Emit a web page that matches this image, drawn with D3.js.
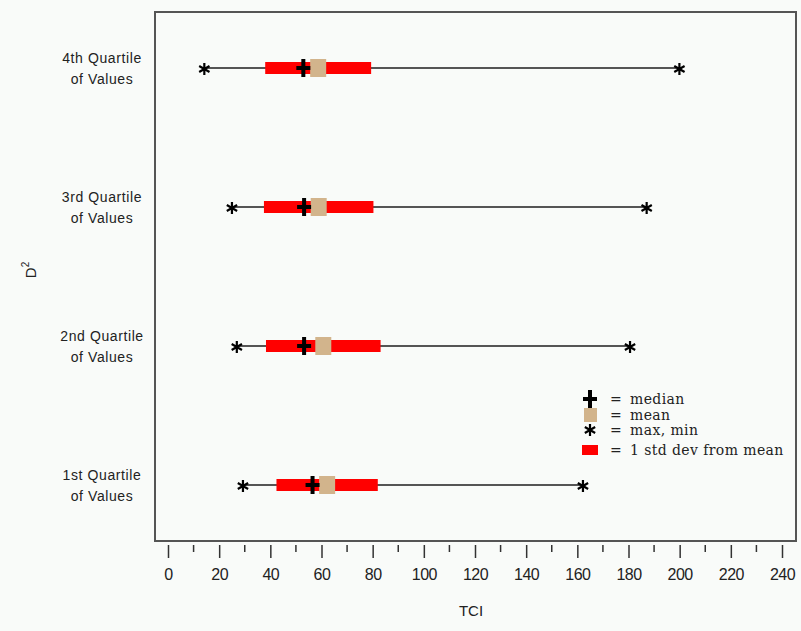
<!DOCTYPE html>
<html>
<head>
<meta charset="utf-8">
<script src="https://cdn.jsdelivr.net/npm/d3@7"></script>
<style>
  body { margin: 0; background: #f9fbf9; }
  svg { display: block; }
</style>
</head>
<body>
<svg id="chart"></svg>
<script>
// quartile groups, bottom to top
const groups = ["1st", "2nd", "3rd", "4th"];
const minVals = [29.3, 26.9, 25.0, 14.2];
const maxVals = [162.2, 180.6, 187.1, 199.9];
const medians = [56.5, 53.2, 53.2, 52.9];
const means = [62.2, 60.7, 58.9, 58.7];
const stdDevs = [19.8, 22.4, 21.4, 20.7];
const xTicks = d3.range(0, 241, 20);
const legendItems = ["median", "mean", "max, min", "1 std dev from mean"];

const width = 801, height = 631;
const svg = d3.select("#chart").attr("width", width).attr("height", height);

const x = d3.scaleLinear().domain([0, 240]).range([168, 782]);
const y = d3.scalePoint().domain(groups).range([485, 68]);

const rows = groups.map((g, i) => ({
  g: g, min: minVals[i], max: maxVals[i], med: medians[i], mean: means[i], sd: stdDevs[i]
}));

// frame
svg.append("rect")
  .attr("x", 155).attr("y", 12)
  .attr("width", 641).attr("height", 529)
  .attr("fill", "none").attr("stroke", "#555").attr("stroke-width", 2);

// x axis below the frame
const xAxis = d3.axisBottom(x).tickValues(xTicks).tickSize(13).tickFormat(d3.format("d"));
const gx = svg.append("g").attr("transform", "translate(0,545)").call(xAxis);
gx.select(".domain").remove();
gx.selectAll(".tick line").attr("stroke", "#333").attr("stroke-width", 1.5);
gx.selectAll(".tick text")
  .attr("y", 24)
  .attr("fill", "#222")
  .style("font-family", "'Liberation Sans', Arial, sans-serif")
  .style("font-size", "16px")
  .style("letter-spacing", "-0.5px");
svg.append("g").selectAll("line")
  .data(d3.range(10, 240, 20))
  .join("line")
  .attr("x1", d => x(d)).attr("x2", d => x(d))
  .attr("y1", 545).attr("y2", 552)
  .attr("stroke", "#333").attr("stroke-width", 1.5);

svg.append("text")
  .attr("x", 471).attr("y", 616)
  .attr("text-anchor", "middle")
  .attr("fill", "#222")
  .style("font-family", "'Liberation Sans', Arial, sans-serif")
  .style("font-size", "15px")
  .text("TCI");

// y title
const yt = svg.append("text")
  .attr("transform", "translate(36,270) rotate(-90)")
  .attr("text-anchor", "middle")
  .attr("fill", "#222")
  .style("font-family", "'Liberation Sans', Arial, sans-serif")
  .style("font-size", "15px");
yt.append("tspan").text("D");
yt.append("tspan").attr("dy", -7).style("font-size", "10px").text("2");

// category labels
const lab = svg.append("g").selectAll("text")
  .data(rows)
  .join("text")
  .attr("text-anchor", "middle")
  .attr("fill", "#222")
  .style("font-family", "'Liberation Sans', Arial, sans-serif")
  .style("font-size", "14px")
  .style("letter-spacing", "0.6px");
lab.append("tspan").attr("x", 102).attr("y", d => y(d.g) - 5).text(d => d.g + " Quartile");
lab.append("tspan").attr("x", 102).attr("y", d => y(d.g) + 16).text("of Values");

// marks
const plot = svg.append("g");
plot.selectAll(".whisker")
  .data(rows)
  .join("line")
  .attr("x1", d => x(d.min)).attr("x2", d => x(d.max))
  .attr("y1", d => y(d.g)).attr("y2", d => y(d.g))
  .attr("stroke", "#555").attr("stroke-width", 2);

plot.selectAll(".sd")
  .data(rows)
  .join("rect")
  .attr("x", d => x(d.mean - d.sd))
  .attr("width", d => x(d.mean + d.sd) - x(d.mean - d.sd))
  .attr("y", d => y(d.g) - 6).attr("height", 12)
  .attr("fill", "#ff0000");

plot.selectAll(".mean")
  .data(rows)
  .join("rect")
  .attr("x", d => x(d.mean) - 8).attr("width", 16)
  .attr("y", d => y(d.g) - 9).attr("height", 18)
  .attr("fill", "#d2b48c");

function plus(sel, cx, cy) {
  sel.append("path")
    .attr("d", `M${cx - 7},${cy}H${cx + 7}M${cx},${cy - 9}V${cy + 9}`)
    .attr("stroke", "#000").attr("stroke-width", 4).attr("fill", "none");
}
rows.forEach(d => plus(plot, x(d.med), y(d.g)));

const star = d3.symbol().type(d3.symbolAsterisk).size(100);
const ends = rows.flatMap(d => [{v: d.min, g: d.g}, {v: d.max, g: d.g}]);
plot.selectAll(".star")
  .data(ends)
  .join("path")
  .attr("transform", d => `translate(${x(d.v)},${y(d.g) + 1})`)
  .attr("d", star)
  .attr("stroke", "#000").attr("stroke-width", 2.2).attr("fill", "none");

// legend
const legY = [399, 415, 430, 450];
const leg = svg.append("g");
plus(leg, 590, legY[0]);
leg.append("rect").attr("x", 584).attr("y", legY[1] - 7).attr("width", 13).attr("height", 14).attr("fill", "#d2b48c");
leg.append("path").attr("transform", `translate(590,${legY[2]})`).attr("d", star)
  .attr("stroke", "#000").attr("stroke-width", 2.2).attr("fill", "none");
leg.append("rect").attr("x", 582).attr("y", legY[3] - 5).attr("width", 16).attr("height", 10).attr("fill", "#ff0000");
leg.selectAll(".eq")
  .data(legendItems)
  .join("text")
  .attr("x", 610).attr("y", (d, i) => legY[i] + 5)
  .attr("fill", "#222")
  .style("font-family", "'DejaVu Serif', serif")
  .style("font-size", "14px")
  .text("=");
leg.selectAll(".lt")
  .data(legendItems)
  .join("text")
  .attr("x", 630).attr("y", (d, i) => legY[i] + 5)
  .attr("fill", "#222")
  .style("font-family", "'DejaVu Serif', serif")
  .style("font-size", "14px")
  .style("letter-spacing", "0.4px")
  .text(d => d);
</script>
</body>
</html>
